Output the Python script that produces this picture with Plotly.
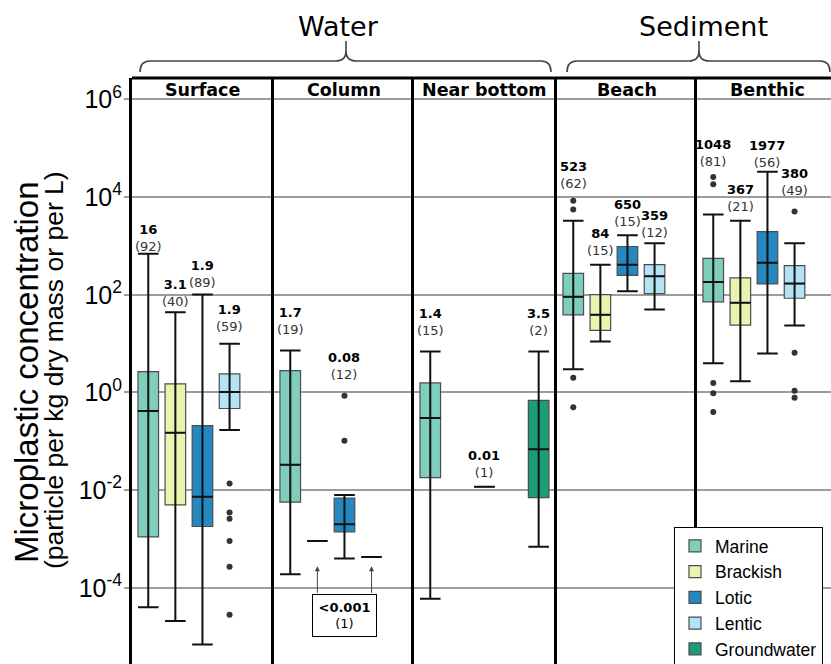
import plotly.graph_objects as go
from plotly.subplots import make_subplots
import math

# ---------------- data ----------------
panels = ["Surface", "Column", "Near bottom", "Beach", "Benthic"]
categories = ["Marine", "Brackish", "Lotic", "Lentic", "Groundwater"]
colors = ["#7fcdbb", "#eaf4b0", "#2389c0", "#b5e3f6", "#1b9e77"]

group_panel = (["Surface"] * 4 + ["Column"] * 4 + ["Near bottom"] * 3
               + ["Beach"] * 4 + ["Benthic"] * 4)
group_cat = ["Marine", "Brackish", "Lotic", "Lentic",
             "Marine", "Brackish", "Lotic", "Lentic",
             "Marine", "Lotic", "Groundwater",
             "Marine", "Brackish", "Lotic", "Lentic",
             "Marine", "Brackish", "Lotic", "Lentic"]
lower_whisker = [4.0e-5, 2.1e-5, 6.9e-6, 0.17,
                 1.9e-4, 9.1e-4, 4.0e-4, 4.3e-4,
                 6.0e-5, 0.0117, 6.9e-4,
                 3.0, 11.1, 118, 50,
                 3.95, 1.69, 6.3, 23.4]
q1 = [0.0011, 0.005, 0.0018, 0.47,
      0.0057, 9.1e-4, 0.0014, 4.3e-4,
      0.018, 0.0117, 0.007,
      39, 18.7, 250, 106,
      72, 24, 167, 85]
median = [0.42, 0.15, 0.0073, 1.02,
          0.033, 9.1e-4, 0.0020, 4.3e-4,
          0.30, 0.0117, 0.069,
          91, 39, 415, 240,
          184, 69, 456, 170]
q3 = [2.67, 1.5, 0.21, 2.4,
      2.8, 9.1e-4, 0.0069, 4.3e-4,
      1.57, 0.0117, 0.69,
      276, 101, 975, 415,
      560, 222, 1970, 396]
upper_whisker = [690, 44, 102, 10,
                 7.2, 9.1e-4, 0.008, 4.3e-4,
                 6.9, 0.0117, 6.9,
                 3300, 415, 1650, 1135,
                 4400, 3300, 33000, 1135]
outliers = [[], [], [], [0.0137, 0.0035, 0.0026, 9.1e-4, 2.7e-4, 2.8e-5],
            [], [], [0.86, 0.103], [],
            [], [], [],
            [8400, 5600, 2.0, 0.50], [], [], [],
            [26000, 18400, 1.57, 0.96, 0.40], [], [], [5070, 6.5, 1.09, 0.78]]
mean_text = ["16", "3.1", "1.9", "1.9",
             "1.7", "", "0.08", "",
             "1.4", "0.01", "3.5",
             "523", "84", "650", "359",
             "1048", "367", "1977", "380"]
n_obs = [92, 40, 89, 59,
         19, 1, 12, 1,
         15, 1, 2,
         62, 15, 15, 12,
         81, 21, 56, 49]
boxed_note_text = "<b>&lt;0.001</b><br>(1)"
boxed_note_targets = ["Brackish", "Lentic"]

ytick_vals = [1e-4, 1e-2, 1e0, 1e2, 1e4, 1e6]
ytick_text = ["10<sup>-4</sup>", "10<sup>-2</sup>", "10<sup>0</sup>",
              "10<sup>2</sup>", "10<sup>4</sup>", "10<sup>6</sup>"]

# ---------------- styling / layout ----------------
W, H = 831, 664
L, T = 132, 78
PW, PH = W - L, H - T
edges = [132, 274, 414, 557, 697, 831]
unit_px = 27.1
yrange = [-5.56, 6.44]
label_gap_px = [7.6, 10.4, 12, 17.3, 21, 0, 21, 0, 21.3, 14.7, 21.3,
                17.3, 14.3, 14, 11, 15.6, 14.3, 9.6, 21]
LBL_FONT = "DejaVu Sans"
ARIAL = "Liberation Sans, Arial"


def xp(px):
    return (px - L) / PW


def yp(py):
    return (H - py) / PH


fig = make_subplots(rows=1, cols=5, shared_yaxes=True, horizontal_spacing=0)

shown = set()
for ci, cat in enumerate(categories):
    for g in range(len(group_cat)):
        if group_cat[g] != cat:
            continue
        col = panels.index(group_panel[g]) + 1
        xpos = categories.index(cat)
        showleg = cat not in shown
        shown.add(cat)
        # box body
        fig.add_trace(go.Box(
            x=[xpos], q1=[q1[g]], median=[median[g]], q3=[q3[g]],
            lowerfence=[q1[g]], upperfence=[q3[g]],
            fillcolor=colors[ci], line=dict(color="#4d4d4d", width=1.2),
            width=0.76, boxpoints=False, name=cat, showlegend=showleg,
            hoverinfo="skip"), row=1, col=col)
        # whiskers (drawn full range over the box) + median
        fig.add_trace(go.Box(
            x=[xpos], q1=[median[g]], median=[median[g]], q3=[median[g]],
            lowerfence=[lower_whisker[g]], upperfence=[upper_whisker[g]],
            fillcolor="rgba(0,0,0,0)", line=dict(color="#111111", width=2),
            whiskerwidth=1, width=0.76, boxpoints=False, showlegend=False,
            name=cat, hoverinfo="skip"), row=1, col=col)
        if outliers[g]:
            fig.add_trace(go.Scatter(
                x=[xpos] * len(outliers[g]), y=outliers[g], mode="markers",
                marker=dict(color="#333333", size=6), showlegend=False,
                hoverinfo="skip"), row=1, col=col)

annotations = []
# mean / n labels
for g in range(len(group_cat)):
    if not mean_text[g]:
        continue
    col = panels.index(group_panel[g]) + 1
    sfx = "" if col == 1 else str(col)
    top = max([upper_whisker[g]] + outliers[g])
    annotations.append(dict(
        x=categories.index(group_cat[g]), y=math.log10(top),
        xref="x" + sfx, yref="y" + sfx,
        text=f"<b>{mean_text[g]}</b><br><span style='color:#333'>({n_obs[g]})</span>",
        showarrow=False, yanchor="bottom", xanchor="center",
        yshift=label_gap_px[g] - 9.5,
        font=dict(family=LBL_FONT, size=13, color="black")))

# boxed note with arrows in Column panel
annotations.append(dict(
    x=2, y=-4.57, xref="x2", yref="y2", text=boxed_note_text,
    showarrow=False, bordercolor="black", borderwidth=1, bgcolor="white",
    width=63, height=41, borderpad=0,
    font=dict(family=LBL_FONT, size=13, color="black")))
for tcat in boxed_note_targets:
    annotations.append(dict(
        x=categories.index(tcat), y=-3.56, xref="x2", yref="y2", text="",
        showarrow=True, ax=0, ay=28, arrowhead=2, arrowsize=1,
        arrowwidth=1, arrowcolor="#444444", standoff=0,
        font=dict(family=LBL_FONT, size=13)))

# strip titles
for i, p in enumerate(panels):
    sfx = "" if i == 0 else str(i + 1)
    annotations.append(dict(
        x=2, y=yp(89.5), xref="x" + sfx, yref="paper", text=f"<b>{p}</b>",
        showarrow=False, xanchor="center", yanchor="middle",
        font=dict(family=LBL_FONT, size=17.5, color="black")))

# group titles
annotations.append(dict(x=xp(338), y=yp(26), xref="paper", yref="paper",
                        text="Water", showarrow=False, xanchor="center",
                        yanchor="middle",
                        font=dict(family=LBL_FONT, size=27, color="black")))
annotations.append(dict(x=xp(703), y=yp(27), xref="paper", yref="paper",
                        text="Sediment", showarrow=False, xanchor="center",
                        yanchor="middle",
                        font=dict(family=LBL_FONT, size=27, color="black")))

# y axis title (two lines, different sizes)
annotations.append(dict(x=xp(26), y=yp(372), xref="paper", yref="paper",
                        text="Microplastic concentration", textangle=-90,
                        showarrow=False, xanchor="center", yanchor="middle",
                        font=dict(family=ARIAL, size=33, color="black")))
annotations.append(dict(x=xp(54), y=yp(370), xref="paper", yref="paper",
                        text="(particle per kg dry mass or per L)", textangle=-90,
                        showarrow=False, xanchor="center", yanchor="middle",
                        font=dict(family=ARIAL, size=26.5, color="black")))


def brace(x0, x1, xm, ybase=72, yline=61, ytip=41, r=10):
    pts = (f"M {xp(x0)},{yp(ybase)} Q {xp(x0)},{yp(yline)} {xp(x0 + r)},{yp(yline)} "
           f"L {xp(xm - r)},{yp(yline)} Q {xp(xm)},{yp(yline)} {xp(xm)},{yp(yline - r)} "
           f"L {xp(xm)},{yp(ytip)} M {xp(xm)},{yp(yline - r)} "
           f"Q {xp(xm)},{yp(yline)} {xp(xm + r)},{yp(yline)} "
           f"L {xp(x1 - r)},{yp(yline)} Q {xp(x1)},{yp(yline)} {xp(x1)},{yp(ybase)}")
    return dict(type="path", path=pts, xref="paper", yref="paper",
                line=dict(color="#444444", width=1.6))


shapes = [
    brace(140, 551, 346),
    brace(567, 830, 699),
    dict(type="line", xref="paper", yref="paper", x0=0, x1=1, y0=1, y1=1,
         line=dict(color="black", width=3)),
]

fig.update_layout(
    width=W, height=H, autosize=False,
    margin=dict(l=L, r=0, t=T, b=0, autoexpand=False),
    paper_bgcolor="white", plot_bgcolor="white",
    boxmode="overlay",
    annotations=annotations, shapes=shapes,
    legend=dict(x=xp(674), y=yp(527), xanchor="left", yanchor="top",
                bordercolor="black", borderwidth=1, bgcolor="white",
                font=dict(family=ARIAL, size=17.5, color="black"),
                tracegroupgap=0),
)

for i in range(5):
    d0, d1 = xp(edges[i]), xp(edges[i + 1])
    wpx = edges[i + 1] - edges[i]
    key = "xaxis" if i == 0 else f"xaxis{i + 1}"
    fig.layout[key].update(domain=[d0, d1], range=[-0.6, -0.6 + wpx / unit_px],
                           visible=False, fixedrange=True)
    ykey = "yaxis" if i == 0 else f"yaxis{i + 1}"
    fig.layout[ykey].update(
        type="log", range=yrange, showgrid=True, gridcolor="#9c9c9c",
        gridwidth=2, zeroline=False, showline=True, linecolor="black",
        linewidth=3, tickvals=ytick_vals, ticktext=ytick_text,
        showticklabels=(i == 0), ticks="outside" if i == 0 else "",
        ticklen=5, tickwidth=2, tickcolor="#9c9c9c",
        tickfont=dict(family=ARIAL, size=25, color="black"))
fig.layout.yaxis.update(ticklabelstandoff=-3)

fig.write_html("out.html",
               config={"displayModeBar": False},
               post_script="document.body.style.margin='0';"
                           "document.body.style.padding='0';")
